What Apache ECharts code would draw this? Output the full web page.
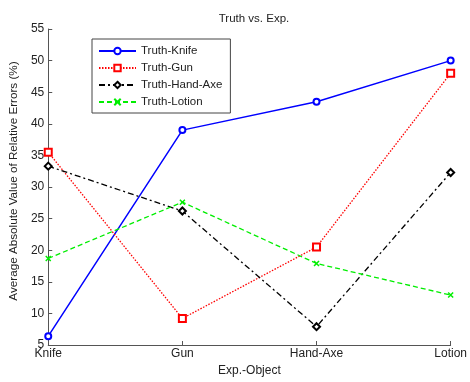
<!DOCTYPE html>
<html>
<head>
<meta charset="utf-8">
<script src="https://cdn.jsdelivr.net/npm/echarts@6/dist/echarts.min.js"></script>
<style>
html,body{margin:0;padding:0;background:#fff;}
#chart{width:470px;height:382px;}
</style>
</head>
<body>
<div id="chart"></div>
<script>
// Experiment objects along the x axis
const objects = ['Knife', 'Gun', 'Hand-Axe', 'Lotion'];

// Average absolute relative error (%) for each truth object
const truthKnife   = [6.4, 39.0, 43.5, 50.0];
const truthGun     = [35.5, 9.2, 20.5, 48.0];
const truthHandAxe = [33.3, 26.2, 7.9, 32.3];
const truthLotion  = [18.7, 27.6, 17.9, 12.9];

const yMin = 5, yMax = 55, yStep = 5;

const font = 'Liberation Sans, Arial, sans-serif';
const crossPath = 'path://M0,0L10,10M10,0L0,10';

function series(name, data, color, dash, symbol, size, width) {
  return {
    name: name,
    type: 'line',
    data: data,
    symbol: symbol,
    symbolSize: size,
    showAllSymbol: true,
    lineStyle: { color: color, width: width, type: dash },
    itemStyle: { color: color, borderColor: color, borderWidth: 1.5 },
    emphasis: { disabled: true },
    animation: false
  };
}

const chart = echarts.init(document.getElementById('chart'), null, { renderer: 'canvas' });
chart.setOption({
  backgroundColor: '#fff',
  textStyle: { fontFamily: font },
  title: {
    text: 'Truth vs. Exp.',
    left: 249, top: 8, textAlign: 'center',
    textStyle: { fontSize: 11.5, fontWeight: 'normal', color: '#222', fontFamily: font }
  },
  legend: {
    orient: 'vertical',
    left: 92, top: 39,
    padding: [6, 8, 5, 6],
    itemGap: 5,
    itemWidth: 37, itemHeight: 8,
    borderColor: '#444', borderWidth: 1,
    backgroundColor: '#fff',
    textStyle: { fontSize: 11.5, color: '#222', fontFamily: font },
    data: ['Truth-Knife', 'Truth-Gun', 'Truth-Hand-Axe', 'Truth-Lotion']
  },
  grid: { left: 46, right: 16, top: 29, bottom: 32, containLabel: false },
  xAxis: {
    type: 'category',
    data: objects,
    boundaryGap: false,
    name: 'Exp.-Object',
    nameLocation: 'middle',
    nameGap: 20,
    nameTextStyle: { fontSize: 12, color: '#222', fontFamily: font },
    axisLine: { lineStyle: { color: '#555', width: 1 } },
    axisTick: { inside: true, length: 4, lineStyle: { color: '#555' } },
    axisLabel: { fontSize: 12, color: '#222', margin: 3, fontFamily: font },
    splitLine: { show: false }
  },
  yAxis: {
    type: 'value',
    min: yMin, max: yMax, interval: yStep,
    name: 'Average Absolute Value of Relative Errors (%)',
    nameLocation: 'middle',
    nameGap: 28,
    nameTextStyle: { fontSize: 11.7, color: '#222', fontFamily: font, padding: [0, 0, 0, 12] },
    axisLine: { show: true, lineStyle: { color: '#555', width: 1 } },
    axisTick: { show: true, inside: true, length: 4, lineStyle: { color: '#555' } },
    axisLabel: { fontSize: 12, color: '#222', margin: 4, fontFamily: font },
    splitLine: { show: false }
  },
  series: [
    series('Truth-Knife', truthKnife, '#0000ff', 'solid', 'emptyCircle', 6, 1.5),
    series('Truth-Gun', truthGun, '#ff0000', [1.5, 1.5], 'emptyRect', 7, 1.3),
    series('Truth-Hand-Axe', truthHandAxe, '#000000', [6, 3, 2, 3], 'emptyDiamond', 7, 1.3),
    series('Truth-Lotion', truthLotion, '#00ee00', [5, 3], crossPath, 5, 1.3)
  ]
});
</script>
</body>
</html>
